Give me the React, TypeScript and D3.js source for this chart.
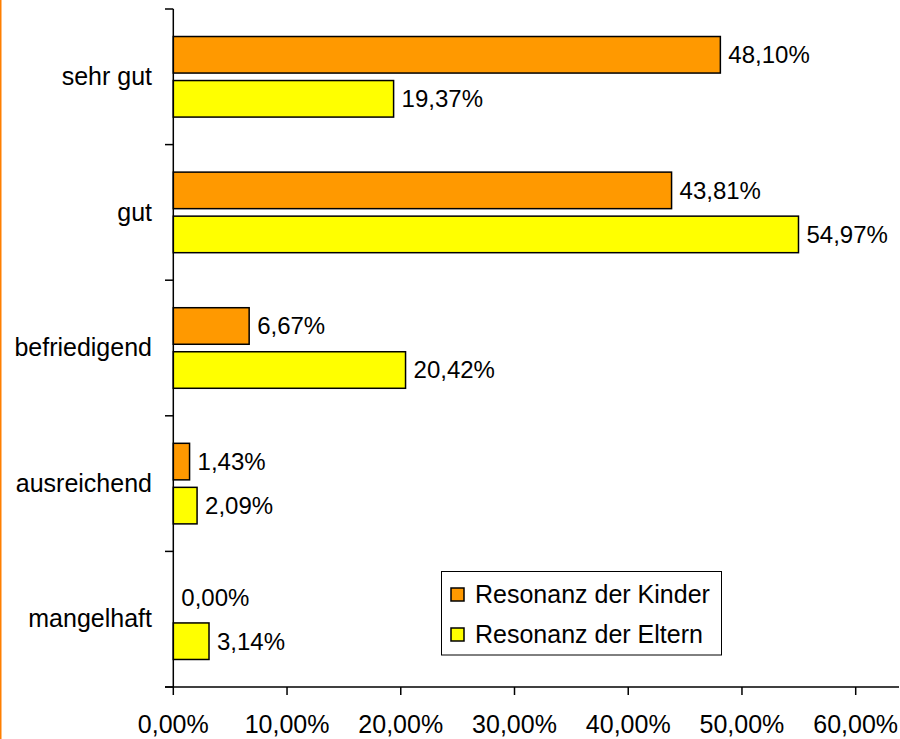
import { FC } from 'react';
import * as d3 from 'd3';

const categories = ['sehr gut', 'gut', 'befriedigend', 'ausreichend', 'mangelhaft'];
const seriesNames = ['Resonanz der Kinder', 'Resonanz der Eltern'];
const kinder = [48.1, 43.81, 6.67, 1.43, 0.0];
const eltern = [19.37, 54.97, 20.42, 2.09, 3.14];
const xTicks = [0, 10, 20, 30, 40, 50, 60];
const colors = ['#FF9900', '#FFFF00'];

const fmt = (v: number) => v.toFixed(2).replace('.', ',') + '%';

const App: FC = () => {
  const width = 900;
  const height = 739;
  const font = '"Liberation Sans", Arial, sans-serif';

  // plot area
  const x = d3.scaleLinear().domain([0, 60]).range([173.3, 855.7]);
  const y = d3.scaleBand<string>().domain(categories).range([9, 687]);
  const inner = d3
    .scaleBand<string>()
    .domain(seriesNames)
    .range([0, y.bandwidth()])
    .paddingInner(0.17)
    .paddingOuter(0.625);

  const series = [kinder, eltern];
  const x0 = x(0);

  return (
    <svg width={width} height={height} style={{ position: 'absolute', left: 0, top: 0, fontFamily: font }}>
      <rect x={0} y={0} width={width} height={height} fill='#fff' />
      {/* orange frame edge on the left */}
      <line x1={0.75} x2={0.75} y1={0} y2={height} stroke='#FF7F00' strokeWidth={1.5} />

      {/* bars */}
      {categories.map((c, i) =>
        series.map((s, j) => {
          const by = (y(c) as number) + (inner(seriesNames[j]) as number);
          const bh = inner.bandwidth();
          const w = x(s[i]) - x0;
          return (
            <g key={c + j}>
              {s[i] > 0 && (
                <rect x={x0} y={by} width={w} height={bh} fill={colors[j]} stroke='#000' strokeWidth={1.5} />
              )}
              <text x={x(s[i]) + 8} y={by + bh / 2} dy='0.35em' fontSize={24} fill='#000'>
                {fmt(s[i])}
              </text>
            </g>
          );
        })
      )}

      {/* y axis */}
      <line x1={x0} x2={x0} y1={9} y2={687} stroke='#000' strokeWidth={1.5} />
      {categories.concat(['end']).map((c, i) => {
        const ty = 9 + i * y.step();
        return <line key={'yt' + i} x1={165} x2={x0} y1={ty} y2={ty} stroke='#000' strokeWidth={1.5} />;
      })}
      {categories.map((c) => (
        <text
          key={'yl' + c}
          x={152}
          y={(y(c) as number) + y.bandwidth() / 2}
          dy='0.33em'
          textAnchor='end'
          fontSize={25}
          fill='#000'
        >
          {c}
        </text>
      ))}

      {/* x axis */}
      <line x1={165} x2={899} y1={687} y2={687} stroke='#000' strokeWidth={1.5} />
      {xTicks.map((t) => (
        <g key={'xt' + t}>
          <line x1={x(t)} x2={x(t)} y1={687} y2={695} stroke='#000' strokeWidth={1.5} />
          <text x={x(t)} y={733} textAnchor='middle' fontSize={25} fill='#000'>
            {fmt(t)}
          </text>
        </g>
      ))}

      {/* legend */}
      <rect x={441.5} y={571.5} width={280} height={83.5} fill='#fff' stroke='#000' strokeWidth={1} />
      {seriesNames.map((n, j) => (
        <g key={'lg' + n} transform={`translate(451, ${588 + j * 40})`}>
          <rect x={0} y={0} width={13} height={13} fill={colors[j]} stroke='#000' strokeWidth={1.5} />
          <text x={24} y={15} fontSize={25} fill='#000'>
            {n}
          </text>
        </g>
      ))}
    </svg>
  );
};

export default App;
